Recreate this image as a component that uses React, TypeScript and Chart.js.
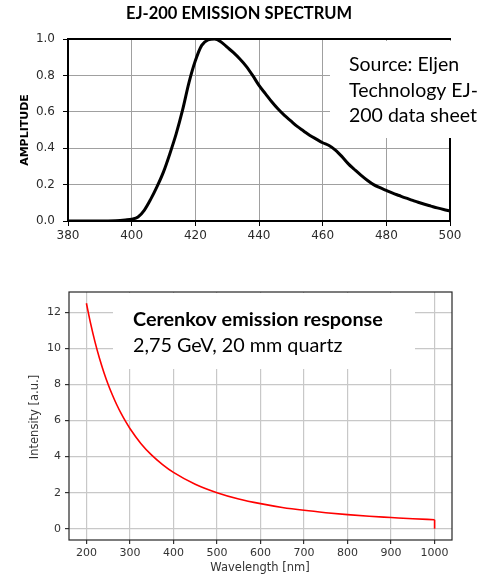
import React, { useEffect, useRef } from 'react';
import { Chart, registerables } from 'chart.js';

Chart.register(...registerables);

// ---------- EJ-200 emission spectrum (top) ----------
const ejWavelength = [
  380, 390, 395, 398, 400, 402, 404, 406, 408, 410, 412, 414, 416, 418, 420, 422, 424, 426, 428, 430,
  432, 434, 436, 438, 440, 442, 444, 446, 448, 450, 452, 454, 456, 458, 460, 462, 464, 466, 468, 470,
  472, 474, 476, 478, 480, 482, 484, 486, 488, 490, 492, 494, 496, 498, 500,
];
const ejAmplitude = [
  0, 0, 0.002, 0.006, 0.01, 0.022, 0.06, 0.12, 0.19, 0.27, 0.37, 0.48, 0.61, 0.76, 0.88, 0.965, 0.995, 1.0, 0.985, 0.955,
  0.925, 0.89, 0.85, 0.8, 0.745, 0.7, 0.655, 0.615, 0.58, 0.55, 0.52, 0.495, 0.47, 0.45, 0.43, 0.415, 0.39, 0.355, 0.315, 0.283,
  0.252, 0.224, 0.2, 0.183, 0.168, 0.153, 0.14, 0.127, 0.115, 0.103, 0.092, 0.082, 0.072, 0.063, 0.055,
];
const ejXTicks = [380, 400, 420, 440, 460, 480, 500];
const ejYTicks = [0, 0.2, 0.4, 0.6, 0.8, 1.0];
const ejTitle = 'EJ-200 EMISSION SPECTRUM';
const ejYLabel = 'AMPLITUDE';
const ejNote = ['Source: Eljen', 'Technology EJ-', '200 data sheet'];

// ---------- Cerenkov emission response (bottom) ----------
const cerWavelength = [
  200, 210, 220, 230, 240, 250, 260, 270, 280, 290, 300, 325, 350, 375, 400, 450, 500, 550, 600, 650,
  700, 750, 800, 850, 900, 950, 1000,
];
const cerIntensity = [
  12.5, 11.34, 10.33, 9.45, 8.68, 8.0, 7.4, 6.86, 6.38, 5.95, 5.56, 4.73, 4.08, 3.56, 3.125, 2.47, 2.0, 1.65, 1.39, 1.18,
  1.02, 0.89, 0.78, 0.69, 0.62, 0.55, 0.5,
];
const cerDropWavelength = [1000, 1000];
const cerDropIntensity = [0.5, 0];
const cerXTicks = [200, 300, 400, 500, 600, 700, 800, 900, 1000];
const cerYTicks = [0, 2, 4, 6, 8, 10, 12];
const cerXLabel = 'Wavelength [nm]';
const cerYLabel = 'Intensity [a.u.]';
const cerNote = ['Cerenkov emission response', '2,75 GeV, 20 mm quartz'];

const W = 492;
const TOP_H = 260;
const BOT_H = 317;

function pts(xs: number[], ys: number[]) {
  return xs.map((x, i) => ({ x, y: ys[i] }));
}

export default function App() {
  const topRef = useRef<HTMLCanvasElement>(null);
  const botRef = useRef<HTMLCanvasElement>(null);

  useEffect(() => {
    document.body.style.margin = '0';

    const topDecor = {
      id: 'topDecor',
      beforeDatasetsDraw(chart: any) {
        const { ctx, chartArea: a } = chart;
        ctx.save();
        ctx.fillStyle = '#ffffff';
        ctx.fillRect(330, a.top + 2, W - 330, 138 - (a.top + 2));
        ctx.strokeStyle = '#000';
        ctx.lineWidth = 2;
        ctx.beginPath();
        ctx.moveTo(a.left - 1, a.top);
        ctx.lineTo(a.right + 1, a.top);
        ctx.moveTo(a.right, 138);
        ctx.lineTo(a.right, a.bottom);
        ctx.stroke();
        ctx.restore();
      },
      afterDraw(chart: any) {
        const { ctx } = chart;
        ctx.save();
        ctx.fillStyle = '#000';
        ctx.textAlign = 'center';
        ctx.textBaseline = 'middle';
        ctx.font = 'bold 16.5px Lato';
        ctx.fillText(ejTitle, 239, 14);
        ctx.textAlign = 'left';
        ctx.font = '19.5px Lato';
        ejNote.forEach((t, i) => ctx.fillText(t, 349, 65 + i * 25.5));
        ctx.translate(25, 130);
        ctx.rotate(-Math.PI / 2);
        ctx.textAlign = 'center';
        ctx.font = 'bold 11px "DejaVu Sans"';
        ctx.fillText(ejYLabel, 0, 0);
        ctx.restore();
      },
    };

    const top = new Chart(topRef.current!, {
      type: 'line',
      data: {
        datasets: [
          {
            data: pts(ejWavelength, ejAmplitude),
            borderColor: '#000',
            borderWidth: 3,
            pointRadius: 0,
            cubicInterpolationMode: 'monotone',
            fill: false,
          } as any,
        ],
      },
      options: {
        responsive: false,
        animation: false,
        events: [],
        layout: { padding: { left: 18, right: 42, top: 39, bottom: 9 } },
        plugins: { legend: { display: false }, tooltip: { enabled: false }, title: { display: false } },
        scales: {
          x: {
            type: 'linear',
            min: 380,
            max: 500,
            afterBuildTicks: (s: any) => {
              s.ticks = ejXTicks.map((v) => ({ value: v }));
            },
            afterFit: (s: any) => {
              s.height = 30;
            },
            grid: { color: '#a0a0a0', lineWidth: 1, tickColor: '#000', tickLength: 5 },
            border: { display: true, color: '#000', width: 2 },
            ticks: {
              padding: 3,
              maxRotation: 0,
              autoSkip: false,
              color: '#2b2b2b',
              font: { family: 'DejaVu Sans', size: 12 },
              callback: (v: any) => String(v),
            },
          },
          y: {
            type: 'linear',
            min: 0,
            max: 1,
            afterBuildTicks: (s: any) => {
              s.ticks = ejYTicks.map((v) => ({ value: v }));
            },
            afterFit: (s: any) => {
              s.width = 50;
            },
            grid: { color: '#a0a0a0', lineWidth: 1, tickColor: '#000', tickLength: 5 },
            border: { display: true, color: '#000', width: 2 },
            ticks: {
              padding: 8,
              autoSkip: false,
              color: '#2b2b2b',
              font: { family: 'DejaVu Sans', size: 12 },
              callback: (v: any) => Number(v).toFixed(1),
            },
          },
        },
      },
      plugins: [topDecor],
    });

    const botDecor = {
      id: 'botDecor',
      beforeDatasetsDraw(chart: any) {
        const { ctx, chartArea: a } = chart;
        ctx.save();
        ctx.fillStyle = '#ffffff';
        ctx.fillRect(113, a.top + 1, 415 - 113, 109 - (a.top + 1));
        ctx.restore();
      },
      afterDraw(chart: any) {
        const { ctx, chartArea: a } = chart;
        ctx.save();
        ctx.strokeStyle = '#262626';
        ctx.lineWidth = 1.2;
        ctx.strokeRect(a.left, a.top, a.right - a.left, a.bottom - a.top);
        ctx.fillStyle = '#000';
        ctx.textBaseline = 'middle';
        ctx.textAlign = 'left';
        ctx.font = 'bold 19.8px Lato';
        ctx.fillText(cerNote[0], 133, 60);
        ctx.font = '19.8px Lato';
        ctx.fillText(cerNote[1], 133, 86);
        ctx.fillStyle = '#333';
        ctx.font = '11.5px "DejaVu Sans"';
        ctx.textAlign = 'center';
        ctx.fillText(cerXLabel, 260, 308);
        ctx.translate(35, 157);
        ctx.rotate(-Math.PI / 2);
        ctx.fillText(cerYLabel, 0, 0);
        ctx.restore();
      },
    };

    const bot = new Chart(botRef.current!, {
      type: 'line',
      data: {
        datasets: [
          {
            data: pts(cerWavelength, cerIntensity),
            borderColor: '#ff0000',
            borderWidth: 1.6,
            pointRadius: 0,
            cubicInterpolationMode: 'monotone',
            fill: false,
          } as any,
          {
            data: pts(cerDropWavelength, cerDropIntensity),
            borderColor: '#ff0000',
            borderWidth: 1.6,
            pointRadius: 0,
            tension: 0,
            fill: false,
          } as any,
        ],
      },
      options: {
        responsive: false,
        animation: false,
        events: [],
        layout: { padding: { left: 24, right: 40, top: 32, bottom: 7 } },
        plugins: { legend: { display: false }, tooltip: { enabled: false }, title: { display: false } },
        scales: {
          x: {
            type: 'linear',
            min: 160,
            max: 1040,
            afterBuildTicks: (s: any) => {
              s.ticks = cerXTicks.map((v) => ({ value: v }));
            },
            afterFit: (s: any) => {
              s.height = 30;
            },
            grid: { color: '#c8c8c8', lineWidth: 1.2, tickColor: '#333', tickLength: 4 },
            border: { display: false },
            ticks: {
              padding: 3,
              maxRotation: 0,
              autoSkip: false,
              color: '#333',
              font: { family: 'DejaVu Sans', size: 11 },
              callback: (v: any) => String(v),
            },
          },
          y: {
            type: 'linear',
            min: -0.625,
            max: 13.125,
            afterBuildTicks: (s: any) => {
              s.ticks = cerYTicks.map((v) => ({ value: v }));
            },
            afterFit: (s: any) => {
              s.width = 45;
            },
            grid: { color: '#c8c8c8', lineWidth: 1.2, tickColor: '#333', tickLength: 4 },
            border: { display: false },
            ticks: {
              padding: 4,
              autoSkip: false,
              color: '#333',
              font: { family: 'DejaVu Sans', size: 11 },
              callback: (v: any) => String(v),
            },
          },
        },
      },
      plugins: [botDecor],
    });

    return () => {
      top.destroy();
      bot.destroy();
    };
  }, []);

  return (
    <div style={{ position: 'absolute', left: 0, top: 0, width: W, height: TOP_H + BOT_H, background: '#fff' }}>
      <canvas
        ref={topRef}
        width={W}
        height={TOP_H}
        style={{ position: 'absolute', left: 0, top: 0, width: W, height: TOP_H }}
      />
      <canvas
        ref={botRef}
        width={W}
        height={BOT_H}
        style={{ position: 'absolute', left: 0, top: TOP_H, width: W, height: BOT_H }}
      />
    </div>
  );
}
